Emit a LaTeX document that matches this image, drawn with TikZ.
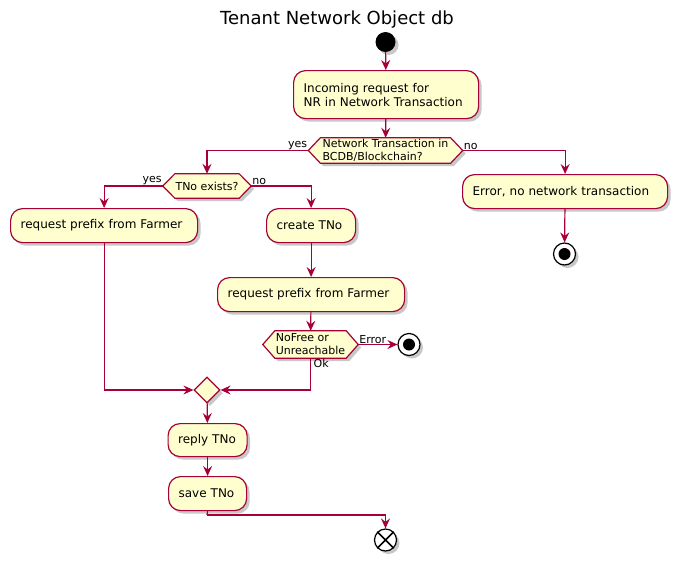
\documentclass[tikz,border=0pt]{standalone}
\usepackage{fontspec}
\setmainfont{DejaVu Sans}
\usetikzlibrary{shapes.geometric,shadows,arrows.meta,calc,backgrounds}
\definecolor{pbord}{HTML}{A80036}
\definecolor{pfill}{HTML}{FEFECE}
\tikzset{
 shad/.style={drop shadow={shadow xshift=3pt,shadow yshift=-3pt,opacity=0.3,fill=black!70}},
 act/.style={rectangle, rounded corners=12pt, draw=pbord, fill=pfill, line width=1.2pt, shad,
   font=\fontsize{12}{14}\selectfont, align=left, inner xsep=10pt, inner ysep=0pt, anchor=north west, text width=#1},
 hexbox/.style={rectangle, draw=none, inner sep=0pt, font=\fontsize{11}{13}\selectfont, align=left},
 hexst/.style={draw=pbord, fill=pfill, line width=1.2pt, shad},
 lbl/.style={font=\fontsize{11}{13}\selectfont, inner sep=1pt},
 arr/.style={draw=pbord, line width=1.2pt, -{Stealth[length=10pt,width=9pt,inset=3.5pt]}},
 plain/.style={draw=pbord, line width=1.2pt},
 stopc/.style={circle, draw=black, fill=white, line width=1.2pt, minimum size=22pt, inner sep=0pt, shad},
}
\newcommand\phex[1]{%
 \begin{scope}[on background layer]
 \filldraw[hexst] ($(#1.north west)+(12,0)$) -- ($(#1.north east)+(-12,0)$) -- (#1.east) -- ($(#1.south east)+(-12,0)$) -- ($(#1.south west)+(12,0)$) -- (#1.west) -- cycle;
 \end{scope}}
\begin{document}
\begin{tikzpicture}[x=1pt,y=-1pt]
\begin{scope}[on background layer]
\fill[white] (0,0) rectangle (677,560);
\end{scope}
\useasboundingbox (0,0) rectangle (677,560);

\node[font=\fontsize{18}{21}\selectfont] (title) at (337,20) {Tenant Network Object db};

\node[circle, fill=black, minimum size=20pt, inner sep=0pt, shad] (start) at (385.5,42) {};

\node[act=165pt, minimum height=48pt] (b1) at (293,70) {Incoming request for\\NR in Network Transaction};

\node[hexbox, minimum width=154pt, minimum height=25pt] (h1) at (385.5,150.5) {Network Transaction in\\BCDB/Blockchain?};
\phex{h1}

\node[act=185pt, minimum height=34pt] (err) at (462,174) {Error, no network transaction};
\node[stopc] (s1) at (564.5,254) {};
\fill[black] (s1) circle (6);

\node[hexbox, minimum width=88pt, minimum height=24pt] (h2) at (207,186) {TNo exists?};
\phex{h2}

\node[act=167pt, minimum height=34pt] (rp1) at (10,208) {request prefix from Farmer};
\node[act=69pt, minimum height=34pt] (ct) at (266,208) {create TNo};
\node[act=167pt, minimum height=34pt] (rp2) at (217,277) {request prefix from Farmer};

\node[hexbox, minimum width=95pt, minimum height=27pt] (h3) at (310.5,344.5) {NoFree or\\Unreachable};
\phex{h3}

\node[stopc] (s2) at (409,344.5) {};
\fill[black] (s2) circle (6);

\node[diamond, draw=pbord, fill=pfill, line width=1.2pt, minimum width=26pt, minimum height=26pt, inner sep=0pt, shad] (m) at (207,390) {};

\node[act=59pt, minimum height=33pt] (reply) at (167.5,423) {reply TNo};
\node[act=58pt, minimum height=34pt] (save) at (168,476) {save TNo};

\coordinate (j) at (207,515);
\node[stopc] (e) at (385.5,540) {};
\draw[black, line width=1.6pt] (e.north west) -- (e.south east) (e.north east) -- (e.south west);

% connectors
\draw[arr] (start) -- (b1);
\draw[arr] (b1) -- (h1);
\draw[arr] (h1.west) -| (h2.north);
\node[lbl, anchor=south east] at (h1.west) {yes};
\draw[arr] (h1.east) -| (err.north);
\node[lbl, anchor=south west] at (h1.east) {no};
\draw[arr] (err) -- (s1);
\draw[arr] (h2.west) -| (rp1.north);
\node[lbl, anchor=south east] at (h2.west) {yes};
\draw[arr] (h2.east) -| (ct.north);
\node[lbl, anchor=south west] at (h2.east) {no};
\draw[arr] (ct) -- (rp2);
\draw[arr] (rp2) -- (h3);
\draw[arr] (h3.east) -- (s2);
\node[lbl, anchor=south west] at (h3.east) {Error};
\draw[arr] (h3.south) |- (m.east);
\node[lbl, anchor=north west] at ([xshift=2pt]h3.south) {Ok};
\draw[arr] (rp1.south) |- (m.west);
\draw[arr] (m) -- (reply);
\draw[arr] (reply) -- (save);
\draw[plain] (save.south) -- (j);
\draw[arr] (j) -| (e.north);
\end{tikzpicture}
\end{document}
